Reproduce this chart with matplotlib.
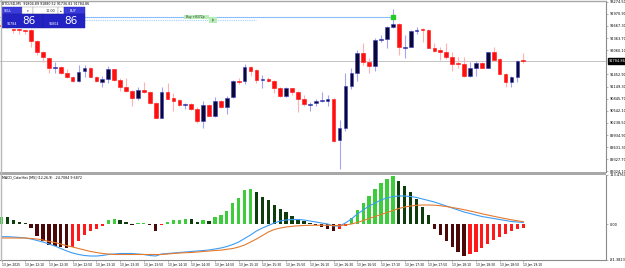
import matplotlib.pyplot as plt
from matplotlib.patches import Rectangle
import matplotlib.transforms as mtransforms

plt.rcParams['font.family'] = ['DejaVu Sans']

# BTCUSD M5, 13 Jan 2025 from 11:50 -- one row per bar: open, high, low, close
opens = [92700.0, 92660.0, 92580.8, 92580.8, 92564.1, 92564.1, 92297.1, 92013.5, 91863.3, 91613.0,
         91638.0, 91496.2, 91387.8, 91279.3, 91529.6, 91613.0, 91387.8, 91270.9, 91337.7, 91579.6,
         91312.7, 91145.8, 91037.3, 90862.1, 91070.7, 91012.3, 90737.0, 90369.9, 91012.3, 90862.1,
         90803.8, 90687.0, 90703.6, 90595.2, 90278.1, 90695.3, 90420.0, 90787.0, 90628.6, 90878.8,
         91287.7, 91287.7, 91638.0, 91563.0, 91312.7, 91329.4, 91296.0, 91112.5, 90920.6, 91104.1,
         91020.7, 90828.8, 90695.3, 90728.7, 90778.7, 90787.1, 90837.1, 89802.6, 90102.9, 91162.5,
         91487.9, 91996.8, 91763.2, 91671.4, 92322.2, 92338.9, 92639.2, 92714.3, 92121.9, 92146.8,
         92547.4, 92580.8, 92564.1, 92121.9, 92063.6, 92013.5, 91880.0, 91738.2, 91713.1, 91412.8,
         91604.7, 91746.5, 91621.4, 92005.1, 91830.0, 91462.9, 91254.3, 91379.4, 91800.5]
highs = [92760.0, 92700.0, 92589.1, 92597.5, 92572.5, 92580.8, 92313.8, 92030.2, 91880.0, 91771.5,
         91663.1, 91579.6, 91412.8, 91688.1, 91688.1, 91646.4, 91404.4, 91412.8, 91663.1, 91596.3,
         91354.4, 91354.4, 91054.0, 91129.1, 91254.3, 91045.7, 90753.7, 91129.1, 91229.2, 90995.6,
         90828.8, 90745.3, 90728.7, 90628.6, 90795.4, 90712.0, 90878.8, 90812.1, 90912.2, 91312.7,
         91354.4, 91704.8, 91663.1, 91579.6, 91437.8, 91396.1, 91312.7, 91129.1, 91129.1, 91120.8,
         91037.4, 90937.2, 90770.4, 90845.5, 91004.0, 90937.2, 90853.8, 90311.5, 91496.3, 91604.7,
         92063.6, 92230.4, 91855.0, 92372.2, 92439.0, 92664.3, 93081.4, 92731.0, 92439.0, 92564.1,
         92630.9, 92605.8, 92580.8, 92230.4, 92146.8, 92230.4, 92021.8, 91880.0, 91880.0, 91771.5,
         91788.3, 91763.2, 92021.8, 92130.3, 91855.0, 91496.3, 91412.8, 91813.3, 91996.8]
lows = [92640.0, 92620.0, 92480.7, 92464.0, 92464.0, 92147.0, 91938.4, 91771.5, 91479.5, 91496.2,
        91462.8, 91354.4, 91262.6, 91262.6, 91379.4, 91379.4, 91262.6, 91129.1, 91229.2, 91296.0,
        91045.7, 91020.6, 90670.3, 90812.1, 90995.6, 90712.0, 90361.5, 90361.5, 90828.8, 90545.1,
        90661.9, 90578.5, 90561.8, 90228.1, 90119.6, 90403.3, 90394.9, 90603.5, 90461.7, 90870.5,
        91212.5, 91204.2, 91421.1, 91229.2, 91120.8, 91254.3, 90995.6, 90895.5, 90895.5, 90937.2,
        90520.1, 90661.9, 90545.1, 90661.9, 90770.4, 90661.9, 89760.9, 89076.8, 90044.5, 91079.1,
        91287.7, 91688.1, 91496.3, 91538.0, 92272.1, 92105.3, 92605.8, 91938.4, 91855.0, 92130.3,
        92464.0, 92272.1, 92105.3, 92021.8, 91813.3, 91830.0, 91538.0, 91604.7, 91396.1, 91396.1,
        91412.8, 91604.7, 91604.7, 91796.6, 91437.8, 91145.8, 91145.8, 91271.0, 91729.8]
closes = [92660.0, 92640.0, 92572.5, 92564.1, 92539.1, 92297.1, 92021.8, 91880.0, 91621.4, 91629.7,
          91479.5, 91379.4, 91287.7, 91521.2, 91613.0, 91396.1, 91279.3, 91329.4, 91579.6, 91312.7,
          91145.8, 91037.3, 90853.8, 91070.7, 91020.6, 90737.0, 90369.9, 91012.3, 90845.5, 90795.4,
          90687.0, 90712.0, 90578.5, 90286.5, 90695.3, 90420.0, 90787.0, 90628.6, 90870.5, 91287.7,
          91270.9, 91646.4, 91546.3, 91304.3, 91329.4, 91279.3, 91104.1, 90920.6, 91104.1, 91020.7,
          90828.8, 90712.0, 90712.0, 90787.1, 90812.1, 90837.1, 89777.6, 90111.3, 91162.5, 91479.5,
          91980.1, 91763.2, 91671.4, 92313.8, 92338.9, 92630.9, 92714.3, 92130.3, 92146.8, 92547.4,
          92564.1, 92564.1, 92121.9, 92038.5, 92005.1, 91880.0, 91713.1, 91713.1, 91412.8, 91604.7,
          91746.5, 91621.4, 92005.1, 91813.3, 91462.9, 91254.3, 91396.1, 91788.3, 91784.86]

hist = [16.2, 15.4, 10.0, 4.6, 1.5, -9.3, -28.6, -40.1, -47.9, -50.2,
        -53.3, -54.0, -53.3, -40.1, -24.7, -17.0, -10.8, -3.9, 9.3, 12.4,
        9.3, 4.6, -3.1, 1.5, 3.1, -3.1, -17.0, -3.1, 3.9, 9.3,
        10.0, 12.4, 11.6, 3.9, 10.0, 7.7, 16.2, 20.1, 30.9, 48.6,
        60.2, 77.2, 80.3, 74.1, 61.8, 54.0, 44.0, 35.0, 27.0, 19.0,
        12.0, 6.0, 2.0, -3.0, -7.0, -11.0, -15.0, -12.0, -5.0, 13.9,
        32.4, 48.6, 64.8, 81.1, 95.0, 104.2, 108.9, 99.6, 88.0, 74.1,
        57.9, 39.4, 20.8, -11.6, -25.5, -39.4, -53.3, -64.8, -73.0, -69.5,
        -63.7, -55.6, -46.3, -37.1, -30.1, -23.2, -16.2, -11.6, -9.3]
macd_main = [-29.1, -29.1, -29.8, -30.9, -32.1, -34.4, -37.8, -41.3, -45.9, -50.4,
             -56.2, -61.9, -66.5, -69.9, -72.2, -73.4, -73.4, -72.2, -69.9, -68.8,
             -67.6, -67.6, -67.6, -68.8, -69.9, -72.2, -73.4, -68.8, -67.6, -66.5,
             -65.3, -64.2, -63.0, -61.9, -60.8, -59.6, -57.3, -55.0, -51.6, -47.0,
             -41.3, -33.2, -25.2, -16.0, -9.2, -3.4, 2.3, 6.9, 9.2, 10.3,
             10.3, 9.2, 6.9, 4.6, 2.3, 0.0, -4.6, -4.6, 2.3, 11.5,
             22.9, 32.1, 41.3, 48.1, 55.0, 59.6, 63.0, 64.2, 64.2, 63.0,
             60.8, 57.3, 53.9, 50.4, 45.9, 41.3, 36.7, 32.1, 27.5, 24.1,
             20.6, 17.2, 14.9, 12.6, 10.3, 8.0, 5.7, 4.6, 3.4]
macd_signal = [-32.1, -32.1, -32.1, -32.1, -32.1, -33.2, -34.4, -36.7, -40.1, -42.4,
               -45.9, -49.8, -52.7, -56.2, -59.6, -63.0, -65.3, -67.6, -68.8, -69.9,
               -69.9, -69.9, -69.9, -69.9, -69.9, -69.9, -69.9, -69.9, -68.8, -67.6,
               -66.5, -65.8, -65.3, -64.2, -63.0, -61.9, -60.8, -60.0, -58.0, -56.2,
               -52.7, -48.1, -41.3, -34.4, -26.4, -18.3, -12.6, -9.2, -6.9, -5.3,
               -4.1, -3.4, -3.0, -2.8, -2.8, -3.0, -3.4, -3.4, -2.3, 0.0,
               3.4, 8.0, 12.6, 17.2, 21.8, 26.4, 30.9, 35.5, 39.0, 41.3,
               42.9, 43.6, 43.6, 43.1, 42.0, 40.1, 37.8, 35.5, 32.8, 29.8,
               26.8, 23.6, 20.6, 17.7, 14.9, 12.2, 9.6, 7.3, 5.3]

time_labels = ['13 Jan 2025', '13 Jan 12:10', '13 Jan 12:30', '13 Jan 12:50', '13 Jan 13:10',
               '13 Jan 13:30', '13 Jan 13:50', '13 Jan 14:10', '13 Jan 14:30', '13 Jan 14:50',
               '13 Jan 15:10', '13 Jan 15:30', '13 Jan 15:50', '13 Jan 16:10', '13 Jan 16:30',
               '13 Jan 16:50', '13 Jan 17:10', '13 Jan 17:30', '13 Jan 17:50', '13 Jan 18:10',
               '13 Jan 18:30', '13 Jan 18:50', '13 Jan 19:10']
price_ticks = [89024.10, 89327.70, 89631.30, 89934.90, 90238.50, 90542.10, 90845.70,
               91149.30, 91452.90, 92060.10, 92363.70, 92667.30, 92970.90, 93274.50]
last_price = 91784.86
buy_price = 92897.0
tp_price = 92814.0
macd_top = 113.4767

W, H = 625, 268
fig = plt.figure(figsize=(W / 100, H / 100), dpi=100)


def px_axes(x0, y0, x1, y1, **kw):
    return fig.add_axes([x0 / W, 1 - y1 / H, (x1 - x0) / W, (y1 - y0) / H], **kw)


ax = px_axes(0, 1, 606, 172)
ax2 = px_axes(0, 174.5, 606, 259.5)
xlim = (-0.253, 101.94)
n = len(closes)
xs = list(range(n))

# --- price panel ---
for i in xs:
    o, h, l, c = opens[i], highs[i], lows[i], closes[i]
    bull = c >= o
    wick = '#a4a4f0' if bull else '#ffb0b0'
    ax.plot([i, i], [l, h], color=wick, lw=0.8, zorder=2, solid_capstyle='butt')
    lo, hi = min(o, c), max(o, c)
    hgt = max(hi - lo, 18)
    if bull:
        ax.add_patch(Rectangle((i - 0.31, lo), 0.62, hgt, facecolor='#0a0a30',
                               edgecolor='#3a3ad0', lw=0.4, zorder=3))
    else:
        ax.add_patch(Rectangle((i - 0.31, lo), 0.62, hgt, facecolor='#ff1010',
                               edgecolor='#ff1010', lw=0.4, zorder=3))

ax.axhline(last_price, color='#c4c4c4', lw=0.7, zorder=1)
ax.plot([xlim[0], 43], [tp_price, tp_price], color='#9fd0ff', lw=0.8, ls=(0, (1, 1)), zorder=1)
ax.plot([xlim[0], 66], [buy_price, buy_price], color='#2a8cff', lw=0.8, ls=(0, (1, 0.8)), zorder=1)
ax.plot([66], [buy_price], 's', color='#22cc22', ms=2.2, zorder=4)

ax.set_xlim(*xlim)
ax.set_ylim(89010, 93290)
ax.set_xticks([])
ax.yaxis.tick_right()
ax.set_yticks(price_ticks)
ax.set_yticklabels([f'{v:.2f}' for v in price_ticks])
ax.tick_params(axis='y', length=1.5, width=0.4, pad=1, labelsize=2.5, color='#808080')
for s in ['top', 'left', 'bottom']:
    ax.spines[s].set_visible(False)
ax.spines['right'].set_color('#8a8a8a')
ax.spines['right'].set_linewidth(0.8)

trans = mtransforms.blended_transform_factory(ax.transAxes, ax.transData)
ax.text(1.004, last_price, f'{last_price:.2f}', transform=trans, fontsize=2.5, color='white',
        va='center', ha='left', clip_on=False,
        bbox=dict(boxstyle='square,pad=0.25', fc='black', ec='black'))

# --- MACD panel ---
cols = []
for i, v in enumerate(hist):
    rising = i == 0 or v >= hist[i - 1]
    if v >= 0:
        cols.append('#3ccc3c' if rising else '#0d3d0d')
    else:
        cols.append('#ff1a1a' if rising else '#4a0808')
ax2.bar(xs, hist, width=0.56, color=cols, zorder=2)
ax2.plot(xs, macd_main, color='#3d9cf5', lw=0.8, zorder=3)
ax2.plot(xs, macd_signal, color='#e57a2e', lw=0.8, zorder=3)

px_per_unit = 49.5 / macd_top
macd_bottom = -35.5 / px_per_unit
ax2.set_xlim(*xlim)
ax2.set_ylim(macd_bottom, macd_top)
ax2.yaxis.tick_right()
ax2.set_yticks([macd_top, 0, macd_bottom])
ax2.set_yticklabels([f'{macd_top:.4f}', '0.00', f'{macd_bottom:.4f}'])
ax2.tick_params(axis='y', length=1.5, width=0.4, pad=1, labelsize=2.5, color='#808080')
ax2.set_xticks(xs[::4])
ax2.set_xticklabels(time_labels)
ax2.tick_params(axis='x', length=1.5, width=0.4, pad=0.8, labelsize=2.2, color='#808080')
for lbl in ax2.get_xticklabels():
    lbl.set_ha('left')
for s in ['top', 'left']:
    ax2.spines[s].set_visible(False)
for s in ['right', 'bottom']:
    ax2.spines[s].set_color('#8a8a8a')
    ax2.spines[s].set_linewidth(0.8)

# --- frame, labels and trade panel in pixel coordinates ---
ov = fig.add_axes([0, 0, 1, 1], zorder=5)
ov.set_xlim(0, W)
ov.set_ylim(H, 0)
ov.axis('off')
ov.patch.set_alpha(0)

ov.plot([0, 606], [0.5, 0.5], color='#a8a8a8', lw=1)
ov.plot([0.5, 0.5], [0, 259.5], color='#b8b8b8', lw=1)
ov.add_patch(Rectangle((0, 172), 606, 2.5, color='#a8a8a8', lw=0))

ov.text(2, 3.6, 'BTCUSD,M5  91804.89 91880.52 91736.82 91784.86', fontsize=2.3,
        va='center', ha='left', color='black')
ov.text(2, 177.6, 'MACD_ColorHist [MS] (12,26,9)  -24.7084 9.6872', fontsize=2.3,
        va='center', ha='left', color='black')

# one-click trading panel
ov.add_patch(Rectangle((2, 7), 20, 7.3, fc='#3b3bdc', ec='#2a2ab8', lw=0.3))
ov.add_patch(Rectangle((22, 7), 11, 7.3, fc='white', ec='#9a9a9a', lw=0.3))
ov.add_patch(Rectangle((33, 7), 25, 7.3, fc='white', ec='#9a9a9a', lw=0.3))
ov.add_patch(Rectangle((58, 7), 6, 7.3, fc='white', ec='#9a9a9a', lw=0.3))
ov.add_patch(Rectangle((64, 7), 21, 7.3, fc='#3b3bdc', ec='#2a2ab8', lw=0.3))
ov.add_patch(Rectangle((2, 14.3), 41, 13.7, fc='#2323c4', ec='#1a1a9a', lw=0.3))
ov.add_patch(Rectangle((43.4, 14.3), 41.6, 13.7, fc='#2323c4', ec='#1a1a9a', lw=0.3))
ov.text(4, 10.7, 'SELL', fontsize=2.4, color='white', va='center', ha='left')
ov.text(70, 10.7, 'BUY', fontsize=2.4, color='white', va='center', ha='left')
ov.text(27.5, 10.7, '\u25be', fontsize=2.4, color='#333333', va='center', ha='center')
ov.text(61, 10.7, '\u25b4', fontsize=2.4, color='#333333', va='center', ha='center')
ov.text(55, 10.7, '10.00', fontsize=2.4, color='#222222', va='center', ha='right')
ov.text(7, 24, '91784', fontsize=2.3, color='white', va='center', ha='left')
ov.text(22, 21.5, '86', fontsize=7.5, color='white', va='center', ha='left')
ov.text(49, 24, '91804', fontsize=2.3, color='white', va='center', ha='left')
ov.text(64, 21.5, '86', fontsize=7.5, color='white', va='center', ha='left')

# order label
ov.add_patch(Rectangle((184, 14.7), 25, 4.6, fc='#b6eeb6', ec='none'))
ov.text(186, 17, 'Buy +8372p', fontsize=2.2, color='#333333', va='center', ha='left')
ov.add_patch(Rectangle((209, 17.3), 8, 5.5, fc='#b6eeb6', ec='none'))
ov.text(213, 20, 'tp', fontsize=2.2, color='#333333', va='center', ha='center')

fig.savefig('out.png', dpi=100)
